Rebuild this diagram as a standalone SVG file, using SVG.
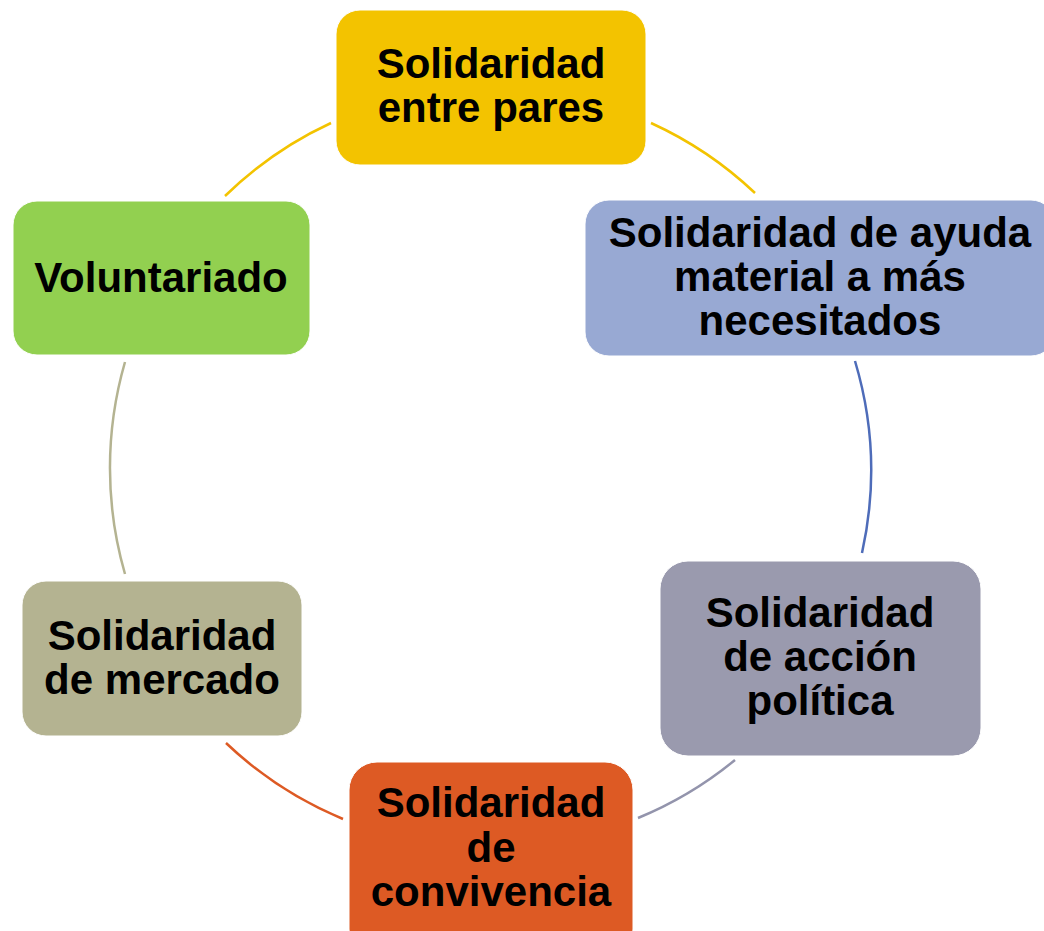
<svg xmlns="http://www.w3.org/2000/svg" width="1044" height="931" viewBox="0 0 1044 931">
<style>
  .node rect { stroke: #ffffff; stroke-width: 1; }
  .node text { font-family: "Liberation Sans", Arial, sans-serif; font-weight: bold; font-size: 42px; fill: #000000; text-anchor: middle; }
  .arc { fill: none; stroke-width: 2.5; }
</style>
<rect width="1044" height="931" fill="#ffffff"/>
<g id="connectors">
  <path class="arc" stroke="#F3C300" d="M651,123 A381,381 0 0 1 755,193"/>
  <path class="arc" stroke="#4E6CB9" d="M855,361 A381,381 0 0 1 862,553"/>
  <path class="arc" stroke="#9394AC" d="M735,760 A381,381 0 0 1 638,818"/>
  <path class="arc" stroke="#DD5A24" d="M343,819 A381,381 0 0 1 226,743"/>
  <path class="arc" stroke="#B4B391" d="M125,574 A381,381 0 0 1 125,362"/>
  <path class="arc" stroke="#F3C300" d="M225,196 A381,381 0 0 1 331,123"/>
</g>
<g id="node-top" class="node">
  <rect x="336" y="10" width="310" height="155" rx="24" fill="#F3C300"/>
  <text x="491" y="78">Solidaridad</text>
  <text x="491" y="122">entre pares</text>
</g>
<g id="node-right-top" class="node">
  <rect x="585" y="200" width="470" height="156" rx="24" fill="#98A9D3"/>
  <text x="820" y="247">Solidaridad de ayuda</text>
  <text x="820" y="291">material a más</text>
  <text x="820" y="335">necesitados</text>
</g>
<g id="node-right-bottom" class="node">
  <rect x="660" y="561" width="321" height="195" rx="28" fill="#9A9AAE"/>
  <text x="820" y="627">Solidaridad</text>
  <text x="820" y="671">de acción</text>
  <text x="820" y="715">política</text>
</g>
<g id="node-bottom" class="node">
  <rect x="349" y="762" width="284" height="195" rx="28" fill="#DD5A24"/>
  <text x="491" y="817">Solidaridad</text>
  <text x="491" y="862">de</text>
  <text x="491" y="906">convivencia</text>
</g>
<g id="node-left-bottom" class="node">
  <rect x="22" y="581" width="280" height="155" rx="24" fill="#B4B391"/>
  <text x="162" y="650">Solidaridad</text>
  <text x="162" y="694">de mercado</text>
</g>
<g id="node-left-top" class="node">
  <rect x="13" y="201" width="297" height="154" rx="24" fill="#92D050"/>
  <text x="161" y="292">Voluntariado</text>
</g>
</svg>
